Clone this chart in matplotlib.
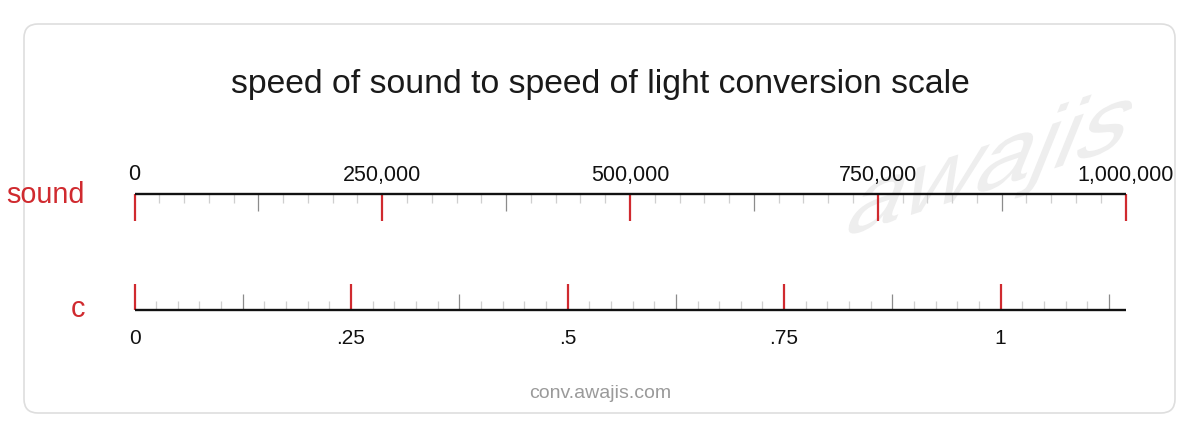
import matplotlib.pyplot as plt
import numpy as np
from matplotlib.patches import FancyBboxPatch, PathPatch
from matplotlib.textpath import TextPath
from matplotlib.font_manager import FontProperties
from matplotlib.transforms import Affine2D

plt.rcParams['font.family'] = ['Liberation Sans', 'DejaVu Sans']

# conversion: 1 "sound" = 343 m/s, c = 299,792,458 m/s
sound_speed = 343.0
light_speed = 299792458.0

sound_max = 1000000
sound_major = [0, 250000, 500000, 750000, 1000000]
sound_labels = ['0', '250,000', '500,000', '750,000', '1,000,000']
sound_minor_step = 25000
sound_mid_step = 125000

c_max = sound_max * sound_speed / light_speed
c_major = [0, 0.25, 0.5, 0.75, 1]
c_labels = ['0', '.25', '.5', '.75', '1']
c_minor_step = 0.025
c_mid_step = 0.125

title = 'speed of sound to speed of light conversion scale'
footer = 'conv.awajis.com'

RED = '#d02a2f'
MID = '#8c8c8c'
LIGHT = '#cfcfcf'

W, H = 1200, 440
fig = plt.figure(figsize=(12, 4.4), dpi=100)

# background / card in pixel coordinates (y up)
bg = fig.add_axes([0, 0, 1, 1])
bg.set_xlim(0, W)
bg.set_ylim(0, H)
bg.axis('off')
card = FancyBboxPatch((24, H - 413), 1175 - 24, 413 - 24,
                      boxstyle='round,pad=0,rounding_size=14',
                      facecolor='white', edgecolor='#dedede', lw=1.2)
bg.add_patch(card)

# watermark (sheared text: baseline ~18 deg, stems ~68 deg)
tp = TextPath((0, 0), 'awajis', size=106, prop=FontProperties(family='Liberation Sans'))
ab, av = np.deg2rad(18), np.deg2rad(68)
wm_tr = Affine2D(np.array([[np.cos(ab), np.cos(av), 840],
                           [np.sin(ab), np.sin(av), H - 238],
                           [0, 0, 1]]))
bg.add_patch(PathPatch(wm_tr.transform_path(tp), facecolor='#eeeeee',
                       edgecolor='none', zorder=1))

bg.text(600, H - 92.7, title, ha='center', va='baseline', fontsize=24.3, color='#1a1a1a')
bg.text(600, H - 398, footer, ha='center', va='baseline', fontsize=14, color='#9a9a9a')
bg.text(85, H - 203, 'sound', ha='right', va='baseline', fontsize=20.7, color=RED)
bg.text(85, H - 316.7, 'c', ha='right', va='baseline', fontsize=20.7, color=RED)

x0, x1 = 134.5, 1125.5


def tick_sets(vmax, minor_step, mid_step, majors):
    n = int(np.floor(vmax / minor_step + 1e-9))
    allt = np.arange(n + 1) * minor_step
    mids = [t for t in allt if abs(t / mid_step - round(t / mid_step)) < 1e-6]
    mins = [t for t in allt if t not in mids]
    mids = [t for t in mids if min(abs(t - m) for m in majors) > 1e-9]
    return mins, mids


# sound scale (line on top, ticks hanging down)
ax_s = fig.add_axes([x0 / W, (H - 194.5 - 28) / H, (x1 - x0) / W, 28 / H])
ax_s.set_xlim(0, sound_max)
ax_s.set_ylim(28, 0)
ax_s.axis('off')
mins, mids = tick_sets(sound_max, sound_minor_step, sound_mid_step, sound_major)
ax_s.vlines(mins, 0, 9, color=LIGHT, lw=0.9, clip_on=False, zorder=2)
ax_s.vlines(mids, 0, 16.5, color=MID, lw=0.9, clip_on=False, zorder=2)
ax_s.vlines(sound_major, 0, 26.5, color=RED, lw=1.6, clip_on=False, zorder=3)
ax_s.hlines(0, 0, sound_max, color='#111111', lw=1.7, clip_on=False, zorder=4)
for v, lab in zip(sound_major, sound_labels):
    ax_s.text(v, -14, lab, ha='center', va='baseline', fontsize=15.5,
              color='#111111', clip_on=False)

# c scale (line at bottom, ticks pointing up)
ax_c = fig.add_axes([x0 / W, (H - 310) / H, (x1 - x0) / W, 28 / H])
ax_c.set_xlim(0, c_max)
ax_c.set_ylim(0, 28)
ax_c.axis('off')
mins, mids = tick_sets(c_max, c_minor_step, c_mid_step, c_major)
ax_c.vlines(mins, 0, 9, color=LIGHT, lw=0.9, clip_on=False, zorder=2)
ax_c.vlines(mids, 0, 16, color=MID, lw=0.9, clip_on=False, zorder=2)
ax_c.vlines(c_major, 0, 26, color=RED, lw=1.6, clip_on=False, zorder=3)
ax_c.hlines(0, 0, c_max, color='#111111', lw=1.7, clip_on=False, zorder=4)
for v, lab in zip(c_major, c_labels):
    ax_c.text(v, -34, lab, ha='center', va='baseline', fontsize=15,
              color='#111111', clip_on=False)

fig.savefig('out.png', dpi=100, facecolor='white')
